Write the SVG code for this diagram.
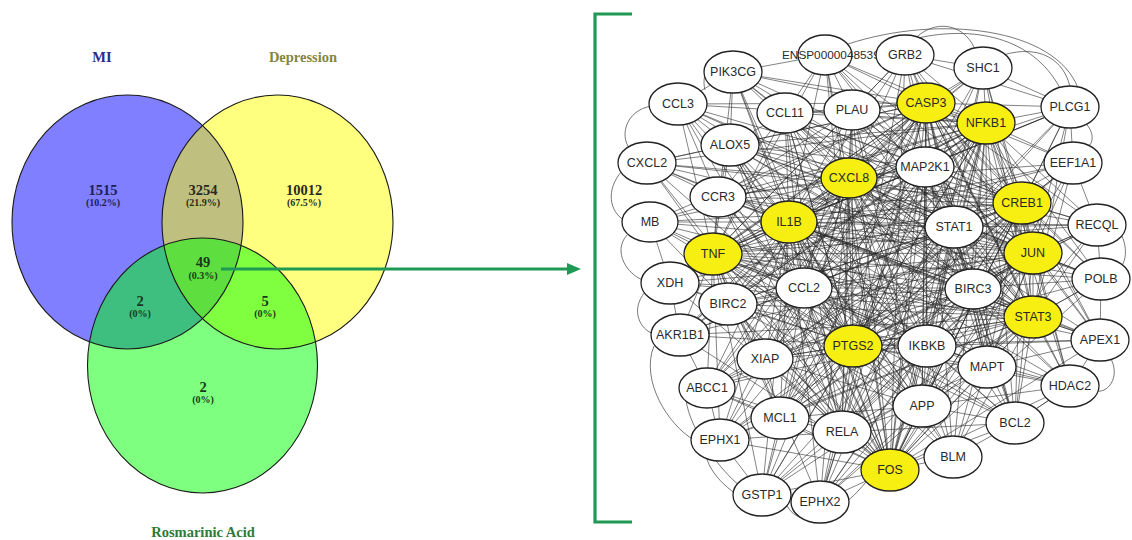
<svg xmlns="http://www.w3.org/2000/svg" width="1132" height="540" viewBox="0 0 1132 540">
<defs>
<style>
.vf{stroke:none;fill-opacity:.5}
.vo{fill:none;stroke:#1a1a1a;stroke-width:1.1}
.vt{font-family:"Liberation Serif","Times New Roman",serif;font-weight:bold;text-anchor:middle}
.num{font-size:14.5px}
.pct{font-size:10px}
.e{fill:none;stroke:#262626;stroke-width:.85;stroke-opacity:.68}
.pe{fill:none;stroke:#444;stroke-width:.9;stroke-opacity:.8}
.nd ellipse{fill:#fff;stroke:#222;stroke-width:1.3}
.nd.hl ellipse{fill:#f7ee12}
.nd text{font-family:"Liberation Sans",Arial,sans-serif;font-size:12.5px;fill:#2a2a2a;text-anchor:middle}
.gr{stroke:#1f9a55;fill:none;stroke-width:3.2}
</style>
</defs>
<rect width="1132" height="540" fill="#fff"/>

<!-- Venn diagram -->
<g id="set-mi"><ellipse class="vf" cx="127.5" cy="222" rx="115.5" ry="127" fill="#0000ff"/></g>
<g id="set-depression"><ellipse class="vf" cx="277.5" cy="222" rx="115.5" ry="127" fill="#ffff00"/></g>
<g id="set-rosmarinic"><ellipse class="vf" cx="202.5" cy="365.5" rx="115" ry="127.5" fill="#00ff00"/></g>
<g id="venn-outlines">
<ellipse class="vo" cx="127.5" cy="222" rx="115.5" ry="127"/>
<ellipse class="vo" cx="277.5" cy="222" rx="115.5" ry="127"/>
<ellipse class="vo" cx="202.5" cy="365.5" rx="115" ry="127.5"/>
</g>
<g id="venn-labels" class="vt">
<text x="102" y="62" font-size="14.5" fill="#2b2b8c">MI</text>
<text x="303" y="62" font-size="14.5" fill="#858540">Depression</text>
<text x="203" y="537" font-size="14.5" fill="#2f7a34">Rosmarinic Acid</text>
<text class="num" x="103" y="195" fill="#1e1e55">1515</text>
<text class="pct" x="103" y="206" fill="#1e1e55">(10.2%)</text>
<text class="num" x="203" y="195" fill="#2a2a1e">3254</text>
<text class="pct" x="203" y="206" fill="#2a2a1e">(21.9%)</text>
<text class="num" x="304" y="195" fill="#2a2a1e">10012</text>
<text class="pct" x="304" y="206" fill="#2a2a1e">(67.5%)</text>
<text class="num" x="203" y="267" fill="#173a17">49</text>
<text class="pct" x="203" y="279" fill="#173a17">(0.3%)</text>
<text class="num" x="140" y="306" fill="#173a17">2</text>
<text class="pct" x="140" y="317" fill="#173a17">(0%)</text>
<text class="num" x="265" y="306" fill="#173a17">5</text>
<text class="pct" x="265" y="317" fill="#173a17">(0%)</text>
<text class="num" x="203" y="392" fill="#173a17">2</text>
<text class="pct" x="203" y="403" fill="#173a17">(0%)</text>
</g>

<!-- bracket -->
<g id="bracket"><path class="gr" d="M632 14H595V522H632"/></g>

<!-- connectors -->
<g id="connectors">
<line class="gr" x1="221" y1="269" x2="570" y2="269"/>
<polygon points="567,263 581,269 567,275" fill="#1f9a55"/>

<path class="e" d="M733 72L926 103 825 55M905 55L926 103 983 68M678 104L926 103 785 113M852 110L926 103 1070 107M730 145L926 103 647 163M925 167L926 103 1073 163M718 197L926 103 650 222M953 227L926 103 1097 225M1101 279L926 103 670 283M803 288L926 103 973 288M728 304L926 103 680 335M1100 340L926 103 927 346M765 359L926 103 987 367M1070 386L926 103 707 388M922 406L926 103 780 418M1015 423L926 103 842 432M720 440L926 103 953 457M762 495L926 103 820 502"/>
<path class="e" d="M733 72L986 123 825 55M905 55L986 123 983 68M678 104L986 123 785 113M852 110L986 123 1070 107M730 145L986 123 647 163M925 167L986 123 1073 163M718 197L986 123 650 222M953 227L986 123 1097 225M1101 279L986 123 670 283M803 288L986 123 973 288M728 304L986 123 680 335M1100 340L986 123 927 346M765 359L986 123 987 367M1070 386L986 123 707 388M922 406L986 123 780 418M1015 423L986 123 842 432M720 440L986 123 953 457M762 495L986 123 820 502"/>
<path class="e" d="M733 72L848 180 825 55M905 55L848 180 983 68M678 104L848 180 785 113M852 110L848 180 1070 107M730 145L848 180 647 163M925 167L848 180 1073 163M718 197L848 180 650 222M953 227L848 180 1097 225M1101 279L848 180 670 283M803 288L848 180 973 288M728 304L848 180 680 335M1100 340L848 180 927 346M765 359L848 180 987 367M1070 386L848 180 707 388M922 406L848 180 780 418M1015 423L848 180 842 432M720 440L848 180 953 457M762 495L848 180 820 502"/>
<path class="e" d="M733 72L789 222 825 55M905 55L789 222 983 68M678 104L789 222 785 113M852 110L789 222 1070 107M730 145L789 222 647 163M925 167L789 222 1073 163M718 197L789 222 650 222M953 227L789 222 1097 225M1101 279L789 222 670 283M803 288L789 222 973 288M728 304L789 222 680 335M1100 340L789 222 927 346M765 359L789 222 987 367M1070 386L789 222 707 388M922 406L789 222 780 418M1015 423L789 222 842 432M720 440L789 222 953 457M762 495L789 222 820 502"/>
<path class="e" d="M733 72L713 254 825 55M905 55L713 254 983 68M678 104L713 254 785 113M852 110L713 254 1070 107M730 145L713 254 647 163M925 167L713 254 1073 163M718 197L713 254 650 222M953 227L713 254 1097 225M1101 279L713 254 670 283M803 288L713 254 973 288M728 304L713 254 680 335M1100 340L713 254 927 346M765 359L713 254 987 367M1070 386L713 254 707 388M922 406L713 254 780 418M1015 423L713 254 842 432M720 440L713 254 953 457M762 495L713 254 820 502"/>
<path class="e" d="M733 72L1022 203 825 55M905 55L1022 203 983 68M678 104L1022 203 785 113M852 110L1022 203 1070 107M730 145L1022 203 647 163M925 167L1022 203 1073 163M718 197L1022 203 650 222M953 227L1022 203 1097 225M1101 279L1022 203 670 283M803 288L1022 203 973 288M728 304L1022 203 680 335M1100 340L1022 203 927 346M765 359L1022 203 987 367M1070 386L1022 203 707 388M922 406L1022 203 780 418M1015 423L1022 203 842 432M720 440L1022 203 953 457M762 495L1022 203 820 502"/>
<path class="e" d="M733 72L1033 253 825 55M905 55L1033 253 983 68M678 104L1033 253 785 113M852 110L1033 253 1070 107M730 145L1033 253 647 163M925 167L1033 253 1073 163M718 197L1033 253 650 222M953 227L1033 253 1097 225M1101 279L1033 253 670 283M803 288L1033 253 973 288M728 304L1033 253 680 335M1100 340L1033 253 927 346M765 359L1033 253 987 367M1070 386L1033 253 707 388M922 406L1033 253 780 418M1015 423L1033 253 842 432M720 440L1033 253 953 457M762 495L1033 253 820 502"/>
<path class="e" d="M733 72L1033 317 825 55M905 55L1033 317 983 68M678 104L1033 317 785 113M852 110L1033 317 1070 107M730 145L1033 317 647 163M925 167L1033 317 1073 163M718 197L1033 317 650 222M953 227L1033 317 1097 225M1101 279L1033 317 670 283M803 288L1033 317 973 288M728 304L1033 317 680 335M1100 340L1033 317 927 346M765 359L1033 317 987 367M1070 386L1033 317 707 388M922 406L1033 317 780 418M1015 423L1033 317 842 432M720 440L1033 317 953 457M762 495L1033 317 820 502"/>
<path class="e" d="M733 72L853 345 825 55M905 55L853 345 983 68M678 104L853 345 785 113M852 110L853 345 1070 107M730 145L853 345 647 163M925 167L853 345 1073 163M718 197L853 345 650 222M953 227L853 345 1097 225M1101 279L853 345 670 283M803 288L853 345 973 288M728 304L853 345 680 335M1100 340L853 345 927 346M765 359L853 345 987 367M1070 386L853 345 707 388M922 406L853 345 780 418M1015 423L853 345 842 432M720 440L853 345 953 457M762 495L853 345 820 502"/>
<path class="e" d="M733 72L890 470 825 55M905 55L890 470 983 68M678 104L890 470 785 113M852 110L890 470 1070 107M730 145L890 470 647 163M925 167L890 470 1073 163M718 197L890 470 650 222M953 227L890 470 1097 225M1101 279L890 470 670 283M803 288L890 470 973 288M728 304L890 470 680 335M1100 340L890 470 927 346M765 359L890 470 987 367M1070 386L890 470 707 388M922 406L890 470 780 418M1015 423L890 470 842 432M720 440L890 470 953 457M762 495L890 470 820 502"/>
<path class="e" d="M986 123L926 103 848 180M1022 203L926 103 789 222M713 254L926 103 1033 253M1033 317L926 103 853 345M890 470L926 103M848 180L986 123 1022 203M789 222L986 123 713 254M1033 253L986 123 1033 317M853 345L986 123 890 470M1022 203L848 180 789 222M713 254L848 180 1033 253M1033 317L848 180 853 345M890 470L848 180M789 222L1022 203 713 254M1033 253L1022 203 1033 317M853 345L1022 203 890 470M713 254L789 222 1033 253M1033 317L789 222 853 345M890 470L789 222M1033 253L713 254 1033 317M853 345L713 254 890 470M1033 317L1033 253 853 345M890 470L1033 253M853 345L1033 317 890 470M853 345L890 470"/>
<path class="e" d="M925 167L953 227 973 288M803 288L953 227 927 346M842 432L953 227 922 406M728 304L953 227 765 359M780 418L953 227 1015 423M987 367L953 227 785 113M852 110L953 227 730 145M718 197L953 227 905 55M983 68L953 227 1070 107M1073 163L953 227 1097 225M1101 279L953 227"/>
<path class="e" d="M973 288L925 167 803 288M927 346L925 167 842 432M922 406L925 167 728 304M765 359L925 167 780 418M1015 423L925 167 987 367M785 113L925 167 852 110M730 145L925 167 718 197M825 55L925 167 905 55M983 68L925 167 1070 107"/>
<path class="e" d="M803 288L973 288 927 346M842 432L973 288 922 406M728 304L973 288 765 359M780 418L973 288 1015 423M987 367L973 288 785 113M852 110L973 288 730 145M718 197L973 288 1097 225M1101 279L973 288 1100 340M1070 386L973 288"/>
<path class="e" d="M927 346L803 288 842 432M922 406L803 288 728 304M765 359L803 288 780 418M1015 423L803 288 987 367M785 113L803 288 852 110M730 145L803 288 718 197M650 222L803 288 670 283M680 335L803 288 707 388"/>
<path class="e" d="M842 432L927 346 922 406M728 304L927 346 765 359M780 418L927 346 1015 423M987 367L927 346 785 113M852 110L927 346 730 145M718 197L927 346 1100 340M1070 386L927 346 953 457M820 502L927 346"/>
<path class="e" d="M842 432L922 406 728 304M765 359L922 406 780 418M1015 423L922 406 987 367M785 113L922 406 852 110M730 145L922 406 718 197M953 457L922 406 820 502M1070 386L922 406"/>
<path class="e" d="M728 304L842 432 765 359M780 418L842 432 1015 423M987 367L842 432 785 113M852 110L842 432 730 145M718 197L842 432 762 495M820 502L842 432 720 440M707 388L842 432"/>
<path class="e" d="M765 359L780 418 728 304 765 359 707 388M780 418L720 440M780 418L762 495M780 418L707 388M728 304L670 283M728 304L680 335M987 367L1015 423 1070 386 987 367 1100 340M1015 423L953 457M785 113L852 110M785 113L730 145 718 197 785 113M852 110L718 197M733 72L785 113M733 72L730 145 678 104 718 197 647 163 730 145M678 104L733 72 825 55 785 113M825 55L852 110 905 55 983 68 1070 107 905 55M1070 107L1073 163 1097 225 1101 279 1100 340 1070 386 1015 423M650 222L670 283 680 335 707 388 720 440 762 495 820 502 842 432M1033 253L1097 225M1033 317L1101 279M1033 317L1100 340M1022 203L1073 163M1033 253L1101 279M1022 203L1097 225"/>
<path class="pe" d="M652 106C624 110 618 140 633 152M622 171C605 190 610 212 624 220M627 235C612 252 628 275 643 280M645 292C630 310 640 330 654 334M654 346C640 380 668 425 694 440M686 400C690 430 720 470 740 486M706 456C712 480 740 500 760 505M785 500C790 520 810 520 820 520M838 505C845 505 855 495 866 482M908 47C928 18 962 20 975 49M918 38C972 26 1032 36 1060 88M848 44C940 14 1055 28 1078 88M1003 55C1040 44 1064 60 1070 87M1110 357C1122 378 1106 396 1094 390M1082 120C1095 130 1095 145 1085 148M1120 232C1130 250 1125 268 1115 272M705 90C700 70 715 60 720 55"/>
</g>

<!-- nodes -->
<g id="node-ENSP00000485396" class="nd"><ellipse cx="825" cy="55" rx="27" ry="20"/><text x="782" y="59" style="text-anchor:start;font-size:11.8px">ENSP00000485396</text></g>
<g id="node-PIK3CG" class="nd"><ellipse cx="733" cy="72" rx="29" ry="21"/><text x="733" y="76">PIK3CG</text></g>
<g id="node-GRB2" class="nd"><ellipse cx="905" cy="55" rx="29" ry="20"/><text x="905" y="59">GRB2</text></g>
<g id="node-SHC1" class="nd"><ellipse cx="983" cy="68" rx="29" ry="21"/><text x="983" y="72">SHC1</text></g>
<g id="node-CCL3" class="nd"><ellipse cx="678" cy="104" rx="29" ry="21"/><text x="678" y="108">CCL3</text></g>
<g id="node-CCL11" class="nd"><ellipse cx="785" cy="113" rx="28" ry="20"/><text x="785" y="117">CCL11</text></g>
<g id="node-PLAU" class="nd"><ellipse cx="852" cy="110" rx="28" ry="20"/><text x="852" y="114">PLAU</text></g>
<g id="node-CASP3" class="nd hl"><ellipse cx="926" cy="103" rx="29" ry="20"/><text x="926" y="107">CASP3</text></g>
<g id="node-NFKB1" class="nd hl"><ellipse cx="986" cy="123" rx="29" ry="21"/><text x="986" y="127">NFKB1</text></g>
<g id="node-PLCG1" class="nd"><ellipse cx="1070" cy="107" rx="29" ry="21"/><text x="1070" y="111">PLCG1</text></g>
<g id="node-ALOX5" class="nd"><ellipse cx="730" cy="145" rx="29" ry="21"/><text x="730" y="149">ALOX5</text></g>
<g id="node-CXCL2" class="nd"><ellipse cx="647" cy="163" rx="29" ry="21"/><text x="647" y="167">CXCL2</text></g>
<g id="node-CXCL8" class="nd hl"><ellipse cx="849" cy="178" rx="28" ry="20"/><text x="849" y="182">CXCL8</text></g>
<g id="node-MAP2K1" class="nd"><ellipse cx="925" cy="167" rx="29" ry="20"/><text x="925" y="171">MAP2K1</text></g>
<g id="node-EEF1A1" class="nd"><ellipse cx="1073" cy="163" rx="29" ry="21"/><text x="1073" y="167">EEF1A1</text></g>
<g id="node-CCR3" class="nd"><ellipse cx="718" cy="197" rx="28" ry="20"/><text x="718" y="201">CCR3</text></g>
<g id="node-CREB1" class="nd hl"><ellipse cx="1022" cy="203" rx="29" ry="21"/><text x="1022" y="207">CREB1</text></g>
<g id="node-MB" class="nd"><ellipse cx="650" cy="222" rx="28" ry="20"/><text x="650" y="226">MB</text></g>
<g id="node-IL1B" class="nd hl"><ellipse cx="789" cy="222" rx="28" ry="21"/><text x="789" y="226">IL1B</text></g>
<g id="node-STAT1" class="nd"><ellipse cx="954" cy="227" rx="29" ry="21"/><text x="954" y="231">STAT1</text></g>
<g id="node-RECQL" class="nd"><ellipse cx="1097" cy="225" rx="29" ry="21"/><text x="1097" y="229">RECQL</text></g>
<g id="node-TNF" class="nd hl"><ellipse cx="713" cy="254" rx="29" ry="21"/><text x="713" y="258">TNF</text></g>
<g id="node-JUN" class="nd hl"><ellipse cx="1033" cy="253" rx="29" ry="21"/><text x="1033" y="257">JUN</text></g>
<g id="node-POLB" class="nd"><ellipse cx="1101" cy="279" rx="29" ry="21"/><text x="1101" y="283">POLB</text></g>
<g id="node-XDH" class="nd"><ellipse cx="670" cy="283" rx="29" ry="21"/><text x="670" y="287">XDH</text></g>
<g id="node-CCL2" class="nd"><ellipse cx="804" cy="288" rx="28" ry="20"/><text x="804" y="292">CCL2</text></g>
<g id="node-BIRC3" class="nd"><ellipse cx="973" cy="289" rx="28" ry="20"/><text x="973" y="293">BIRC3</text></g>
<g id="node-BIRC2" class="nd"><ellipse cx="728" cy="304" rx="29" ry="21"/><text x="728" y="308">BIRC2</text></g>
<g id="node-STAT3" class="nd hl"><ellipse cx="1033" cy="317" rx="29" ry="21"/><text x="1033" y="321">STAT3</text></g>
<g id="node-AKR1B1" class="nd"><ellipse cx="680" cy="335" rx="29" ry="21"/><text x="680" y="339">AKR1B1</text></g>
<g id="node-APEX1" class="nd"><ellipse cx="1100" cy="340" rx="29" ry="21"/><text x="1100" y="344">APEX1</text></g>
<g id="node-PTGS2" class="nd hl"><ellipse cx="853" cy="346" rx="29" ry="21"/><text x="853" y="350">PTGS2</text></g>
<g id="node-IKBKB" class="nd"><ellipse cx="927" cy="346" rx="29" ry="21"/><text x="927" y="350">IKBKB</text></g>
<g id="node-XIAP" class="nd"><ellipse cx="765" cy="359" rx="28" ry="20"/><text x="765" y="363">XIAP</text></g>
<g id="node-MAPT" class="nd"><ellipse cx="987" cy="367" rx="29" ry="21"/><text x="987" y="371">MAPT</text></g>
<g id="node-HDAC2" class="nd"><ellipse cx="1070" cy="386" rx="29" ry="21"/><text x="1070" y="390">HDAC2</text></g>
<g id="node-ABCC1" class="nd"><ellipse cx="707" cy="388" rx="28" ry="20"/><text x="707" y="392">ABCC1</text></g>
<g id="node-APP" class="nd"><ellipse cx="922" cy="406" rx="29" ry="21"/><text x="922" y="410">APP</text></g>
<g id="node-MCL1" class="nd"><ellipse cx="780" cy="418" rx="29" ry="21"/><text x="780" y="422">MCL1</text></g>
<g id="node-BCL2" class="nd"><ellipse cx="1015" cy="423" rx="29" ry="21"/><text x="1015" y="427">BCL2</text></g>
<g id="node-RELA" class="nd"><ellipse cx="842" cy="432" rx="29" ry="21"/><text x="842" y="436">RELA</text></g>
<g id="node-EPHX1" class="nd"><ellipse cx="720" cy="440" rx="29" ry="21"/><text x="720" y="444">EPHX1</text></g>
<g id="node-BLM" class="nd"><ellipse cx="953" cy="457" rx="29" ry="21"/><text x="953" y="461">BLM</text></g>
<g id="node-FOS" class="nd hl"><ellipse cx="890" cy="470" rx="29" ry="21"/><text x="890" y="474">FOS</text></g>
<g id="node-GSTP1" class="nd"><ellipse cx="762" cy="495" rx="29" ry="21"/><text x="762" y="499">GSTP1</text></g>
<g id="node-EPHX2" class="nd"><ellipse cx="820" cy="502" rx="29" ry="21"/><text x="820" y="506">EPHX2</text></g>
</svg>
